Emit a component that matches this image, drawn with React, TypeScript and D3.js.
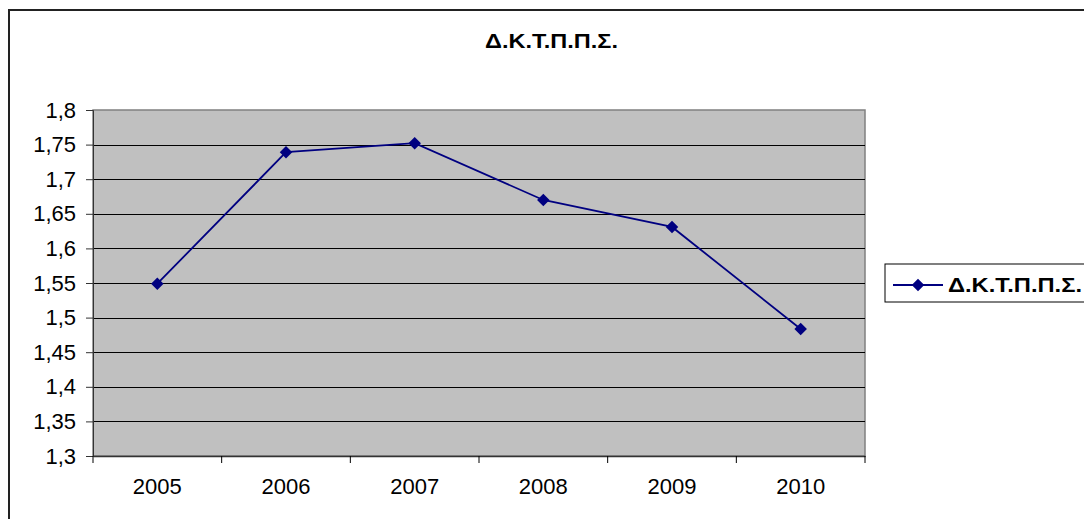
import React, { useEffect, useRef } from 'react';
import * as d3 from 'd3';

// Δ.Κ.Τ.Π.Π.Σ. yearly values
const years = ['2005', '2006', '2007', '2008', '2009', '2010'];
const values = [1.549, 1.739, 1.752, 1.670, 1.631, 1.4835];
const yTicks = [1.3, 1.35, 1.4, 1.45, 1.5, 1.55, 1.6, 1.65, 1.7, 1.75, 1.8];
const seriesName = 'Δ.Κ.Τ.Π.Π.Σ.';

const fmt = (v: number) => String(+v.toFixed(2)).replace('.', ',');

const App: React.FC = () => {
  const svgRef = useRef<SVGSVGElement>(null);

  useEffect(() => {
    const svg = d3.select(svgRef.current);
    svg.selectAll('*').remove();

    const width = 1084;
    const height = 519;
    const plot = { left: 93, right: 865, top: 110, bottom: 456 };
    const font = 'Arial, "Liberation Sans", sans-serif';
    const navy = '#000080';

    svg.attr('width', width).attr('height', height);

    // outer chart border (runs off the right and bottom edges)
    svg
      .append('rect')
      .attr('x', 9)
      .attr('y', 10)
      .attr('width', width + 20)
      .attr('height', height + 20)
      .attr('fill', '#fff')
      .attr('stroke', '#222')
      .attr('stroke-width', 2);

    const x = d3.scaleBand().domain(years).range([plot.left, plot.right]);
    const y = d3.scaleLinear().domain([1.3, 1.8]).range([plot.bottom, plot.top]);

    // plot area
    svg
      .append('rect')
      .attr('x', plot.left)
      .attr('y', plot.top)
      .attr('width', plot.right - plot.left)
      .attr('height', plot.bottom - plot.top)
      .attr('fill', '#c0c0c0')
      .attr('stroke', '#808080')
      .attr('stroke-width', 1.5);

    // gridlines
    svg
      .append('g')
      .selectAll('line')
      .data(yTicks.slice(1, -1))
      .join('line')
      .attr('x1', plot.left)
      .attr('x2', plot.right)
      .attr('y1', (d) => Math.round(y(d)) + 0.5)
      .attr('y2', (d) => Math.round(y(d)) + 0.5)
      .attr('stroke', '#000')
      .attr('stroke-width', 1);

    // y axis
    const yAxis = svg
      .append('g')
      .attr('transform', `translate(${plot.left},0)`)
      .call(d3.axisLeft(y).tickValues(yTicks).tickSize(7).tickFormat((d) => fmt(+d)));
    yAxis.select('.domain').attr('stroke', '#333');
    yAxis.selectAll('.tick line').attr('stroke', '#333');
    yAxis
      .selectAll('text')
      .attr('x', -17)
      .style('font-family', font)
      .style('font-size', '22px')
      .attr('fill', '#000');

    // x axis
    const xAxis = svg
      .append('g')
      .attr('transform', `translate(0,${plot.bottom})`)
      .call(d3.axisBottom(x).tickSize(0));
    xAxis.select('.domain').attr('stroke', '#333').attr('stroke-width', 1.5);
    xAxis
      .selectAll('text')
      .attr('y', 22)
      .style('font-family', font)
      .style('font-size', '22px')
      .attr('fill', '#000');
    // tick marks between categories
    xAxis
      .append('g')
      .selectAll('line')
      .data(years.map((d) => x(d)!).concat([plot.right]))
      .join('line')
      .attr('x1', (d) => d)
      .attr('x2', (d) => d)
      .attr('y1', 0)
      .attr('y2', 7)
      .attr('stroke', '#000');

    // line series
    const line = d3
      .line<number>()
      .x((_, i) => x(years[i])! + x.bandwidth() / 2)
      .y((d) => y(d));

    svg
      .append('path')
      .datum(values)
      .attr('fill', 'none')
      .attr('stroke', navy)
      .attr('stroke-width', 1.8)
      .attr('d', line);

    const diamond = d3.symbol().type(d3.symbolDiamond2).size(100);
    svg
      .append('g')
      .selectAll('path')
      .data(values)
      .join('path')
      .attr('d', diamond)
      .attr('transform', (d, i) => `translate(${x(years[i])! + x.bandwidth() / 2},${y(d)})`)
      .attr('fill', navy);

    // title
    svg
      .append('text')
      .attr('x', 485)
      .attr('y', 48)
      .attr('textLength', 133)
      .attr('lengthAdjust', 'spacingAndGlyphs')
      .style('font-family', font)
      .style('font-size', '20px')
      .style('font-weight', 'bold')
      .text(seriesName);

    // legend
    const lg = svg.append('g');
    lg.append('rect')
      .attr('x', 885)
      .attr('y', 264)
      .attr('width', 220)
      .attr('height', 38)
      .attr('fill', '#fff')
      .attr('stroke', '#000')
      .attr('stroke-width', 1);
    lg.append('line')
      .attr('x1', 893)
      .attr('x2', 943)
      .attr('y1', 285)
      .attr('y2', 285)
      .attr('stroke', navy)
      .attr('stroke-width', 1.8);
    lg.append('path')
      .attr('d', diamond)
      .attr('transform', 'translate(918,285)')
      .attr('fill', navy);
    lg.append('text')
      .attr('x', 948)
      .attr('y', 292)
      .attr('textLength', 134)
      .attr('lengthAdjust', 'spacingAndGlyphs')
      .style('font-family', font)
      .style('font-size', '20px')
      .style('font-weight', 'bold')
      .text(seriesName);
  }, []);

  return (
    <div style={{ position: 'absolute', left: 0, top: 0, width: 1084, height: 519, overflow: 'hidden' }}>
      <svg ref={svgRef} style={{ display: 'block' }}></svg>
    </div>
  );
};

export default App;
